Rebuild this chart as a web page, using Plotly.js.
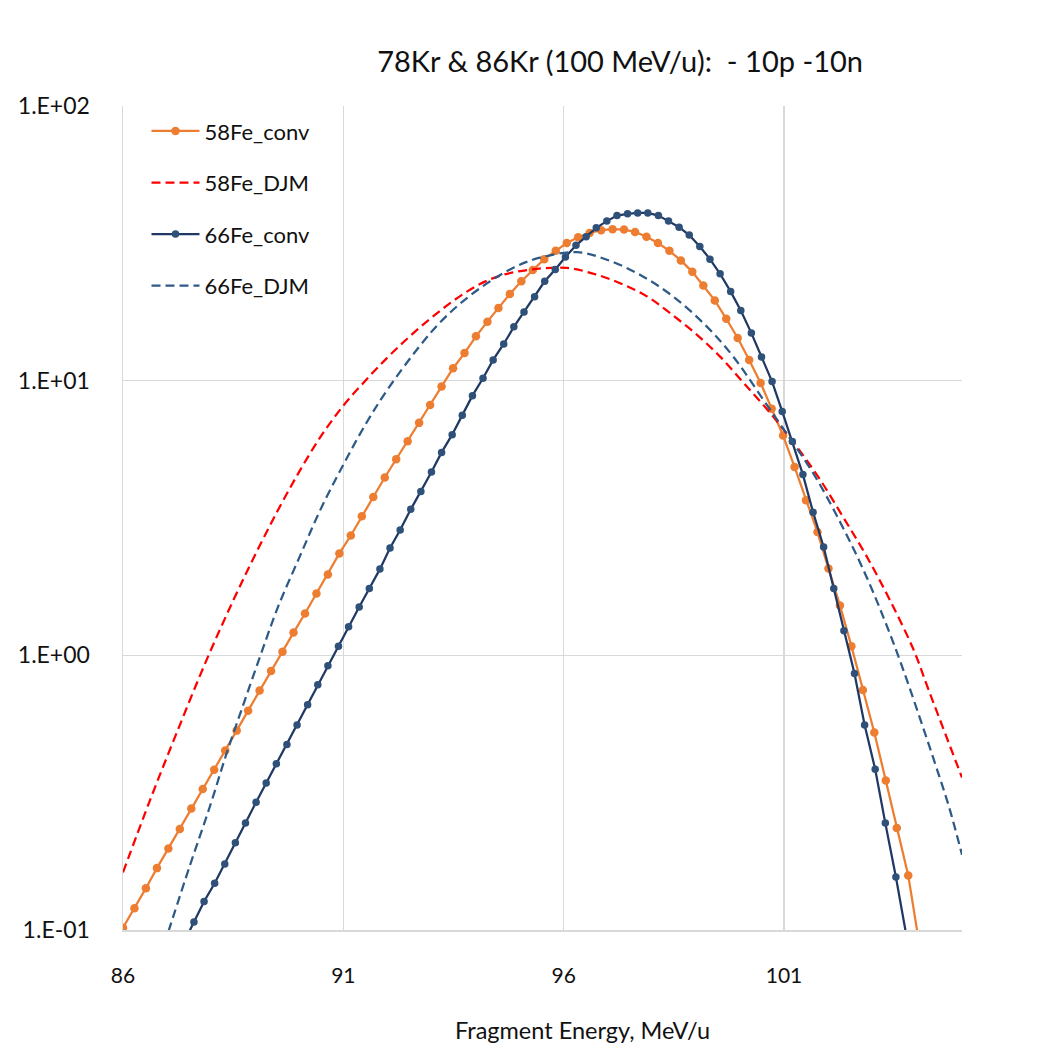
<!DOCTYPE html>
<html>
<head>
<meta charset="utf-8">
<script src="https://cdn.plot.ly/plotly-3.0.1.min.js"></script>
<style>html,body{margin:0;padding:0;background:#fff;}#chart{width:1051px;height:1059px;}</style>
</head>
<body>
<div id="chart"></div>
<script>
// ---- Data ----
const chartTitle = "78Kr &amp; 86Kr (100 MeV/u):  - 10p -10n";
const xTitle = "Fragment Energy, MeV/u";
const seriesNames = ["58Fe_conv", "58Fe_DJM", "66Fe_conv", "66Fe_DJM"];

const fe58ConvX = [86.00,86.26,86.52,86.77,87.03,87.29,87.55,87.81,88.07,88.32,
  88.58,88.84,89.10,89.36,89.62,89.87,90.13,90.39,90.65,90.91,
  91.17,91.42,91.68,91.94,92.20,92.46,92.72,92.97,93.23,93.49,
  93.75,94.01,94.27,94.52,94.78,95.04,95.30,95.56,95.82,96.07,
  96.33,96.59,96.85,97.11,97.37,97.62,97.88,98.14,98.40,98.66,
  98.92,99.17,99.43,99.69,99.95,100.21,100.47,100.72,100.98,101.24,
  101.50,101.76,102.01,102.27,102.53,102.79,103.05,103.31,103.56,103.82,104.08];
const fe58ConvY = [0.102,0.120,0.142,0.168,0.198,0.233,0.277,0.326,0.383,0.450,
  0.532,0.629,0.744,0.877,1.03,1.21,1.42,1.68,1.97,2.35,
  2.73,3.21,3.77,4.44,5.18,6.02,7.02,8.16,9.53,11.1,
  12.6,14.5,16.4,18.4,20.7,23.0,25.3,27.7,29.7,31.7,
  33.3,34.5,35.3,35.6,35.5,34.8,33.4,31.7,29.7,27.4,
  24.9,22.2,19.6,16.8,14.3,11.9,9.81,7.91,6.31,4.85,
  3.67,2.81,2.07,1.52,1.08,0.748,0.524,0.350,0.235,0.158,0.087];

const fe58DjmX = [86.00,86.61,87.22,87.90,88.50,89.00,89.50,90.00,90.50,91.00,
  91.50,92.00,92.50,93.00,93.50,94.03,94.56,95.24,96.07,96.75,
  97.36,97.89,98.41,99.02,99.55,100.08,100.68,101.29,101.82,102.35,
  102.88,103.41,103.94,104.28,105.04];
const fe58DjmY = [0.162,0.296,0.523,0.965,1.582,2.326,3.337,4.664,6.306,8.110,
  10.0,12.13,14.46,16.95,19.55,22.17,24.11,25.36,25.72,24.31,
  22.36,20.27,17.64,14.71,12.23,9.83,7.648,5.750,4.361,3.172,
  2.287,1.582,1.049,0.750,0.359];

const fe66ConvX = [87.38,87.61,87.84,88.08,88.31,88.55,88.78,89.02,89.25,89.48,
  89.72,89.95,90.19,90.42,90.65,90.89,91.12,91.36,91.59,91.83,
  92.06,92.29,92.53,92.76,93.00,93.23,93.47,93.70,93.93,94.17,
  94.40,94.64,94.87,95.10,95.34,95.57,95.81,96.04,96.28,96.51,
  96.74,96.98,97.21,97.45,97.68,97.91,98.15,98.38,98.62,98.85,
  99.09,99.32,99.55,99.79,100.02,100.26,100.49,100.73,100.96,101.19,
  101.43,101.66,101.90,102.13,102.36,102.60,102.83,103.07,103.30,103.54,103.77];
const fe66ConvY = [0.090,0.107,0.127,0.148,0.174,0.208,0.245,0.292,0.343,0.403,
  0.474,0.558,0.661,0.782,0.917,1.08,1.27,1.50,1.75,2.06,
  2.46,2.86,3.40,3.95,4.65,5.48,6.36,7.49,8.82,10.2,
  11.9,13.6,15.7,17.8,20.2,23.0,25.4,28.2,31.1,33.4,
  36.0,38.1,39.9,40.5,40.8,40.8,39.9,38.1,36.2,33.9,
  30.8,27.7,24.5,21.1,18.0,14.9,12.2,9.92,7.73,6.01,
  4.55,3.32,2.48,1.75,1.23,0.858,0.558,0.385,0.245,0.156,0.097];

const fe66DjmX = [87.03,87.52,87.97,88.35,88.73,89.11,89.52,90.02,90.47,91.00,
  91.50,92.00,92.74,93.19,93.65,94.25,94.86,95.46,96.30,96.98,
  97.73,98.49,99.25,99.85,100.53,101.06,101.67,102.27,102.80,103.26,
  103.64,104.02,104.40,104.75,105.04];
const fe66DjmY = [0.0987,0.172,0.281,0.439,0.661,0.989,1.504,2.306,3.364,4.946,
  6.916,9.27,13.41,16.26,19.07,22.55,25.78,28.04,29.36,27.57,
  24.31,20.22,15.73,12.23,8.527,6.415,4.585,3.067,2.051,1.372,
  0.949,0.634,0.417,0.279,0.188];

const xTicks = [86, 91, 96, 101];
const yTickVals = [0.1, 1, 10, 100];
const yTickText = ["1.E-01", "1.E+00", "1.E+01", "1.E+02"];

// ---- Styles ----
const FONT = "Lato, 'Open Sans', sans-serif";
const ORANGE = "#ED7D31";
const NAVY = "#203864";
const NAVY_MARK = "#2F5078";
const BLUE_DASH = "#2E5A87";
const RED = "#FF0000";
const GRID = "#D9D9D9";

const traces = [
  {x: fe58ConvX, y: fe58ConvY, name: seriesNames[0], legendgroup: "a", type: "scatter", mode: "lines+markers",
   line: {color: ORANGE, width: 2.25}, marker: {color: ORANGE, size: 8.5, symbol: "circle"}},
  {x: fe58DjmX, y: fe58DjmY, name: seriesNames[1], legendgroup: "b", type: "scatter", mode: "lines",
   line: {color: RED, width: 2.25, dash: "9px,5px", shape: "spline", smoothing: 1}},
  {x: fe66ConvX, y: fe66ConvY, name: seriesNames[2], legendgroup: "c", type: "scatter", mode: "lines+markers",
   line: {color: NAVY, width: 2.25}, marker: {color: NAVY_MARK, size: 7.5, symbol: "circle"}},
  {x: fe66DjmX, y: fe66DjmY, name: seriesNames[3], legendgroup: "d", type: "scatter", mode: "lines",
   line: {color: BLUE_DASH, width: 2.25, dash: "9px,5px", shape: "spline", smoothing: 1}}
];

const layout = {
  width: 1051, height: 1059,
  margin: {l: 123, r: 89, t: 106, b: 129, pad: 0},
  paper_bgcolor: "#ffffff", plot_bgcolor: "#ffffff",
  font: {family: FONT, color: "#222222"},
  title: {text: chartTitle, font: {family: FONT, size: 29, color: "#111111"},
          x: 0.59, xanchor: "center", y: 0.9415, yanchor: "middle"},
  showlegend: true,
  legend: {x: 0.028, y: 0.995, xanchor: "left", yanchor: "top", bgcolor: "rgba(255,255,255,0)",
           borderwidth: 0, font: {family: FONT, size: 22, color: "#111111"},
           itemwidth: 48, tracegroupgap: 20, traceorder: "grouped"},
  xaxis: {range: [86, 105.04], tickvals: xTicks, ticktext: xTicks.map(String),
          showgrid: true, gridcolor: GRID, gridwidth: 1.5, zeroline: false,
          showline: true, linecolor: GRID, linewidth: 1.5, ticks: "",
          ticklabelstandoff: 26,
          tickfont: {family: FONT, size: 21, color: "#111111"}},
  yaxis: {type: "log", range: [-1, 2], tickvals: yTickVals, ticktext: yTickText,
          showgrid: true, gridcolor: GRID, gridwidth: 1.5, zeroline: false,
          showline: true, linecolor: GRID, linewidth: 1.5, ticks: "",
          ticklabelstandoff: 27,
          tickfont: {family: FONT, size: 23, color: "#111111"}},
  annotations: [
    {text: xTitle, xref: "paper", yref: "paper", x: (582 - 123) / 839, y: -100 / 824,
     xanchor: "center", yanchor: "middle", showarrow: false,
     font: {family: FONT, size: 23.5, color: "#111111"}}
  ]
};

Plotly.newPlot("chart", traces, layout, {displayModeBar: false, staticPlot: true});
</script>
</body>
</html>
